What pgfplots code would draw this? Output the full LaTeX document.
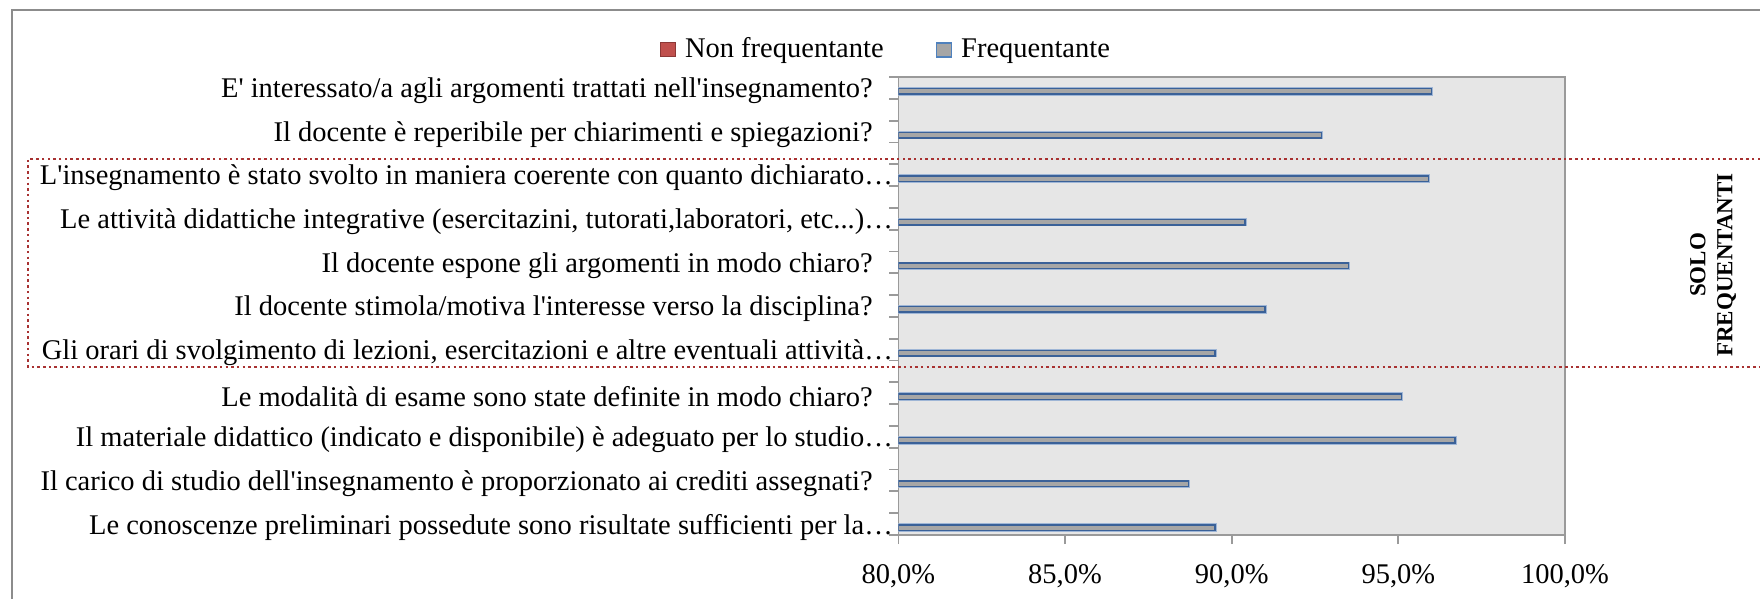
\documentclass[border=0pt]{standalone}
\usepackage{fontspec}
\setmainfont{Liberation Serif}[Ligatures=TeXOff]
\usepackage{pgfplots}
\pgfplotsset{compat=1.18}
\usepackage{pgfplotstable}
\definecolor{plotbg}{HTML}{E6E6E6}
\definecolor{axisgray}{HTML}{9A9A9A}
\definecolor{barfill}{HTML}{A6A6A6}
\definecolor{bardraw}{HTML}{3A6198}
\definecolor{barglow}{HTML}{9FB6D6}
\definecolor{nfred}{HTML}{C0504D}
\definecolor{nfredd}{HTML}{8C3836}
\definecolor{frblue}{HTML}{4F81BD}
\definecolor{boxred}{HTML}{A83232}
\definecolor{framegray}{HTML}{8C8C8C}

\pgfplotstableread{
y val
20.34 96.0
18.34 92.7
16.34 95.9
14.34 90.4
12.34 93.5
10.34 91.0
8.34 89.5
6.34 95.1
4.34 96.7
2.34 88.7
0.34 89.5
}\freq

\begin{document}
\fontsize{28.5pt}{34pt}\selectfont
\begin{tikzpicture}[x=1pt,y=1pt]
\useasboundingbox (0,0) rectangle (1760,599);
\draw[framegray, line width=2pt] (12,0) -- (12,589) -- (1760,589);
\begin{axis}[
  at={(898.4pt,64pt)}, anchor=south west,
  scale only axis, width=666.6pt, height=458pt,
  xmin=80, xmax=100, ymin=0, ymax=21,
  axis background/.style={fill=plotbg},
  axis line style={draw=axisgray, line width=1.8pt},
  tick style={draw=axisgray, line width=1.8pt},
  tick align=outside,
  xtick pos=bottom, ytick pos=left,
  major tick length=9pt,
  xtick={80,85,90,95,100},
  xticklabels={{80,0\%},{85,0\%},{90,0\%},{95,0\%},{100,0\%}},
  xticklabel style={anchor=base, inner sep=0pt, yshift=-39pt},
  ytick={0,1,...,21},
  yticklabels={},
  extra y ticks={0.5,2.5,4.5,6.5,8.5,10.5,12.5,14.5,16.5,18.5,20.5},
  extra y tick labels={
    {Le conoscenze preliminari possedute sono risultate sufficienti per la…},
    {Il carico di studio dell'insegnamento è proporzionato ai crediti assegnati?\hspace*{20pt}},
    {Il materiale didattico (indicato e disponibile) è adeguato per lo studio…},
    {Le modalità di esame sono state definite in modo chiaro?\hspace*{20pt}},
    {Gli orari di svolgimento di lezioni, esercitazioni e altre eventuali attività…},
    {Il docente stimola/motiva l'interesse verso la disciplina?\hspace*{20pt}},
    {Il docente espone gli argomenti in modo chiaro?\hspace*{20pt}},
    {Le attività didattiche integrative (esercitazini, tutorati,laboratori, etc.\kern0pt.\kern0pt.)…},
    {L'insegnamento è stato svolto in maniera coerente con quanto dichiarato…},
    {Il docente è reperibile per chiarimenti e spiegazioni?\hspace*{20pt}},
    {E' interessato/a agli argomenti trattati nell'insegnamento?\hspace*{20pt}}},
  extra y tick style={major tick length=0pt, tick style={draw=none},
    yticklabel style={anchor=east, inner sep=0pt, xshift=-5.5pt, yshift=-3pt}},
  legend style={at={(axis description cs:-0.0186,1.059)}, anchor=center,
    draw=none, fill=none, legend columns=2, inner sep=0pt,
    /tikz/every odd column/.append style={column sep=7pt},
    /tikz/every even column/.append style={column sep=50pt}},
  legend image code/.code={\draw[#1] (0pt,-7pt) rectangle (15pt,7pt);},
]
\addplot[xbar, bar width=5.5pt, fill=barfill, draw=bardraw, line width=1.5pt,
  preaction={draw=barglow, line width=3pt}, forget plot]
  table[x=val, y=y]{\freq};
\addlegendimage{fill=nfred, draw=nfredd, line width=1pt}
\addlegendentry{Non frequentante}
\addlegendimage{fill=barfill, draw=frblue, line width=1.5pt}
\addlegendentry{Frequentante}
\end{axis}
\draw[boxred, line width=2.5pt, dash pattern=on 2.5pt off 3.2pt]
  (1760,440) -- (28,440) -- (28,232) -- (1760,232);
\node[rotate=90, align=center, font=\fontsize{23pt}{27pt}\selectfont\bfseries, inner sep=0pt]
  at (1713,334) {SOLO\\FREQUENTANTI};
\end{tikzpicture}
\end{document}
